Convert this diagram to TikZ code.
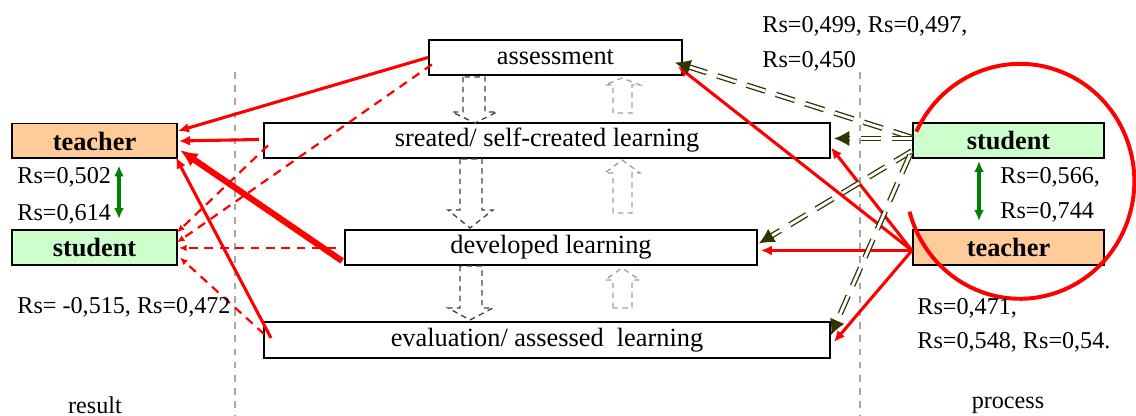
\documentclass[tikz,border=0pt]{standalone}
\usepackage{fontspec}
\setmainfont{Liberation Serif}[Ligatures=TeX]
\usetikzlibrary{arrows.meta,calc}
\definecolor{tchfill}{HTML}{FFCC99}
\definecolor{stdfill}{HTML}{CCFFCC}
\definecolor{darkolive}{HTML}{333300}
\definecolor{arrgreen}{HTML}{008000}
\begin{document}
\begin{tikzpicture}[x=0.016cm,y=-0.016cm]
\tikzstyle{every node}+=[inner sep=0pt, font=\rmfamily\fontsize{12}{14}\selectfont]
\tikzstyle{box}=[draw=black, line width=0.9pt, fill=white, minimum height=0.56cm]
\tikzstyle{role}=[box, font=\rmfamily\fontsize{12}{14}\selectfont\bfseries, minimum width=2.64cm]
\tikzstyle{coef}=[anchor=west, font=\rmfamily\fontsize{11}{13}\selectfont]
\tikzstyle{redarr}=[red, line width=1.4pt, -{Latex[length=5pt,width=4.5pt]}]
\tikzstyle{reddash}=[red, line width=1pt, dash pattern=on 4pt off 3pt, -{Latex[length=3.5pt,width=3pt]}]
\tikzstyle{olivearr}=[draw=darkolive, double=white, double distance=1.3pt, line width=0.6pt, dash pattern=on 9pt off 5pt, -{Latex[length=7pt,width=7pt]}]
\tikzstyle{greenarr}=[arrgreen, line width=1.6pt, {Latex[length=5pt,width=4.5pt]}-{Latex[length=5pt,width=4.5pt]}]
\tikzstyle{sepline}=[gray!70, line width=0.6pt, dash pattern=on 3pt off 3pt]
\tikzstyle{blockdown}=[black!75, line width=0.6pt, dash pattern=on 2.5pt off 2pt]
\tikzstyle{blockup}=[gray!75, line width=0.6pt, dash pattern=on 2.5pt off 2pt]
\useasboundingbox (0,0) rectangle (1136,416);
% separators
\draw [sepline] (235,72) -- (235,416);
\draw [sepline] (860,72) -- (860,416);
% learning stages
\node [box, minimum width=4.05cm] (assess) at (555.5,57.5) {assessment};
\node [box, minimum width=9.06cm] (sreat) at (547,140.5) {sreated/ self-created learning};
\node [box, minimum width=6.59cm] (devel) at (551,247.5) {developed learning};
\node [box, minimum width=9.06cm, minimum height=0.58cm] (eval) at (547,340) {evaluation/ assessed\ \ learning};
% roles
\node [role, fill=tchfill] (teachL) at (94.5,141) {teacher};
\node [role, fill=stdfill] (studL) at (94.5,247.5) {student};
\node [role, fill=stdfill, minimum width=3.06cm] (studR) at (1008.5,140.5) {student};
\node [role, fill=tchfill, minimum width=3.06cm] (teachR) at (1008.5,247.5) {teacher};
% block arrows between stages
\draw [blockdown] (463,77) -- (463,112) -- (452,112) -- (475,123) -- (497,112) -- (485,112) -- (485,77) -- cycle;
\draw [blockdown] (460,159) -- (460,210) -- (448,210) -- (470,228) -- (493,210) -- (482,210) -- (482,159) -- cycle;
\draw [blockdown] (460,266) -- (460,308) -- (448,308) -- (470,320) -- (493,308) -- (482,308) -- (482,266) -- cycle;
\draw [blockup] (613,113) -- (613,85) -- (605,85) -- (622,78) -- (640,85) -- (632,85) -- (632,113) -- cycle;
\draw [blockup] (613,213) -- (613,173) -- (605,173) -- (622,160) -- (640,173) -- (632,173) -- (632,213) -- cycle;
\draw [blockup] (613,308) -- (613,280) -- (605,280) -- (622,268) -- (640,280) -- (632,280) -- (632,308) -- cycle;
% result side
\draw [redarr] (assess.west) -- ($(teachL.east)+(0,-10)$);
\draw [redarr] ($(sreat.west)+(-4,-1)$) -- ($(teachL.east)+(1,0)$);
\draw [red, line width=2.8pt, -{Latex[length=8pt,width=7pt]}] ($(devel.south west)+(-2,-5)$) -- ($(teachL.east)+(2,9)$);
\draw [redarr] ($(eval.west)+(8,-2)$) -- ($(teachL.south east)+(-2,-2)$);
\draw [reddash] ($(sreat.west)+(5,5)$) -- ($(studL.east)+(-1,-15)$);
\draw [reddash] ($(assess.west)+(4,7)$) -- ($(studL.east)+(-1,-5)$);
\draw [reddash] ($(devel.west)+(-8,0.5)$) -- ($(studL.east)+(1,0.5)$);
\draw [reddash] ($(eval.west)+(1,-6)$) -- ($(studL.east)+(2,10)$);
\draw [greenarr] ($(teachL.south)+(24.5,6)$) -- ($(studL.north)+(24.5,-10)$);
% process side
\coordinate (tr) at ($(teachR.west)+(0,3)$);
\draw [redarr] (tr) -- ($(assess.east)+(-5,9)$);
\draw [redarr] (tr) -- ($(sreat.east)+(0,7)$);
\draw [redarr] (tr) -- ($(devel.east)+(3,3)$);
\draw [redarr] (tr) -- ($(eval.east)+(3,2)$);
\draw [olivearr] ($(studR.west)+(0,-3)$) -- ($(assess.east)+(-8,5)$);
\draw [olivearr] ($(studR.west)+(0,-2)$) -- ($(sreat.east)+(3,-2)$);
\draw [olivearr] ($(studR.south west)+(0,-8)$) -- ($(devel.east)+(1,-4)$);
\draw [olivearr] ($(studR.south west)+(-2,-4)$) -- ($(eval.east)+(0,-5)$);
\draw [greenarr] ($(studR.south)+(-29.5,2)$) -- ($(teachR.north)+(-29.5,-8)$);
\draw [red, line width=1.8pt] (1020,180) ++(155:1.83cm) arc[start angle=155, end angle=-165, x radius=1.83cm, y radius=1.88cm];
% coefficients
\node [coef] (rsa) at (17,177) {Rs=0,502};
\node [coef] (rsb) at (17,214) {Rs=0,614};
\node [coef] (rsc) at (17,307) {Rs= -0,515, Rs=0,472};
\node [coef] (rsd) at (762,26) {Rs=0,499, Rs=0,497,};
\node [coef] (rse) at (762,61) {Rs=0,450};
\node [coef] (rsf) at (1000,177) {Rs=0,566,};
\node [coef] (rsg) at (1000,212) {Rs=0,744};
\node [coef] (rsh) at (917,308) {Rs=0,471,};
\node [coef] (rsi) at (917,342) {Rs=0,548, Rs=0,54.};
\node [font=\rmfamily\fontsize{11}{13}\selectfont] (result) at (95,405) {result};
\node [font=\rmfamily\fontsize{11}{13}\selectfont] (process) at (1008,405) {process};
\end{tikzpicture}
\end{document}
